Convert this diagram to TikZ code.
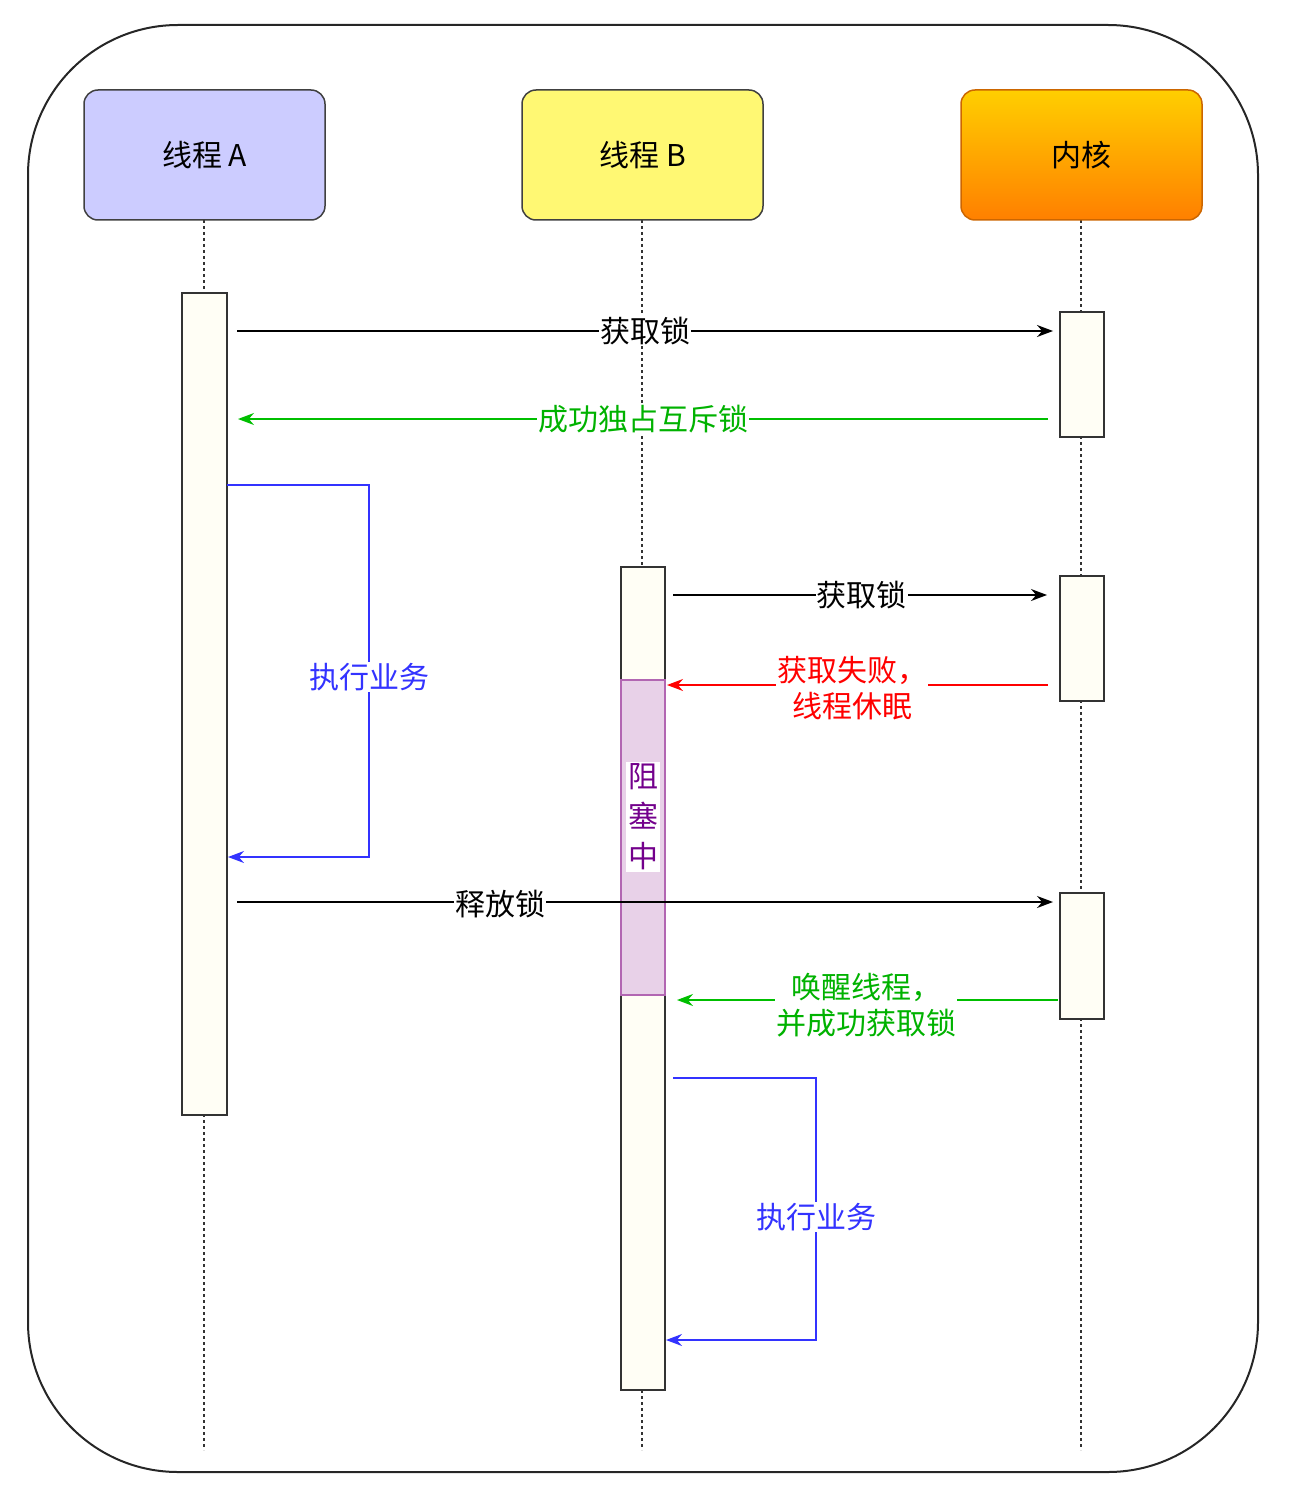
\documentclass[tikz,border=0pt]{standalone}
\usepackage{fontspec}
\setmainfont{Noto Sans CJK SC}
\usetikzlibrary{arrows.meta}
\begin{document}
\begin{tikzpicture}[x=1pt,y=-1pt,
  hdr/.style={draw=#1,line width=1.5pt,rounded corners=14pt,font=\fontsize{30}{34}\selectfont},
  act/.style={draw=black!80,fill=black!3!yellow!4,line width=1.3pt},
  life/.style={dashed,line width=1.3pt,black!80},
  msg/.style={line width=1.5pt,-{Stealth[length=16pt,width=12pt]}},
  lbl/.style={fill=white,inner sep=1pt,font=\fontsize{30}{36}\selectfont,align=center}]
\useasboundingbox (0,0) rectangle (1290,1506);
\draw[line width=2pt,black!85,rounded corners=150pt] (28,25) rectangle (1258,1472);
\draw[life] (204,220) -- (204,1450);
\draw[life] (642,220) -- (642,1450);
\draw[life] (1081,220) -- (1081,1450);
\node[hdr=black!75,fill=blue!20,minimum width=241pt,minimum height=130pt] (ha) at (204.5,155) {线程 \textit{A}};
\node[hdr=black!75,fill=yellow!55,minimum width=241pt,minimum height=130pt] (hb) at (642.5,155) {线程 B};
\shade[top color=orange!20!yellow!90!red,bottom color=orange,draw=orange!80!black,line width=1.5pt,rounded corners=14pt] (961,90) rectangle (1202,220);
\node[font=\fontsize{30}{34}\selectfont] (hk) at (1081.5,155) {内核};
\draw[act] (182,293) rectangle (227,1115);
\draw[act] (1060,312) rectangle (1104,437);
\draw[act] (621,567) rectangle (665,1390);
\draw[act] (1060,576) rectangle (1104,701);
\draw[act] (1060,893) rectangle (1104,1019);
\draw[draw=violet!60,fill=violet!18,line width=1.3pt] (621,680) rectangle (665,995);
\node[fill=white,inner sep=2pt,text=violet!90!blue,font=\fontsize{30}{40}\selectfont,align=center] (blk) at (643,817) {阻\\塞\\中};
\coordinate (a1) at (237,331); \coordinate (k1) at (1053,331);
\draw[msg] (a1) -- (k1) node[lbl,pos=0.5,xshift=0pt] {获取锁};
\coordinate (k2) at (1048,419); \coordinate (a2) at (238,419);
\draw[msg,green!75!black] (k2) -- (a2) node[lbl,pos=0.5,text=green!70!black] {成功独占互斥锁};
\coordinate (l1) at (227,485); \coordinate (l2) at (228,857);
\draw[msg,blue!80,line width=1.3pt] (l1) -- (369,485) -- (369,857) -- (l2);
\node[lbl,text=blue!80] (t1) at (369,677) {执行业务};
\coordinate (b1) at (673,595); \coordinate (k3) at (1047,595);
\draw[msg] (b1) -- (k3) node[lbl,pos=0.505] {获取锁};
\coordinate (k4) at (1048,685); \coordinate (b2) at (667,685);
\draw[msg,red] (k4) -- (b2);
\node[lbl,text=red] (t2) at (852,688) {获取失败，\\线程休眠};
\coordinate (a3) at (237,902); \coordinate (k5) at (1053,902);
\draw[msg] (a3) -- (k5);
\node[lbl] (t3) at (500,904) {释放锁};
\coordinate (k6) at (1058,1000); \coordinate (b3) at (677,1000);
\draw[msg,green!75!black] (k6) -- (b3);
\node[lbl,text=green!70!black] (t4) at (866,1005) {唤醒线程，\\并成功获取锁};
\coordinate (m1) at (673,1078); \coordinate (m2) at (666,1340);
\draw[msg,blue!80,line width=1.3pt] (m1) -- (816,1078) -- (816,1340) -- (m2);
\node[lbl,text=blue!80] (t5) at (816,1217) {执行业务};
\end{tikzpicture}
\end{document}
